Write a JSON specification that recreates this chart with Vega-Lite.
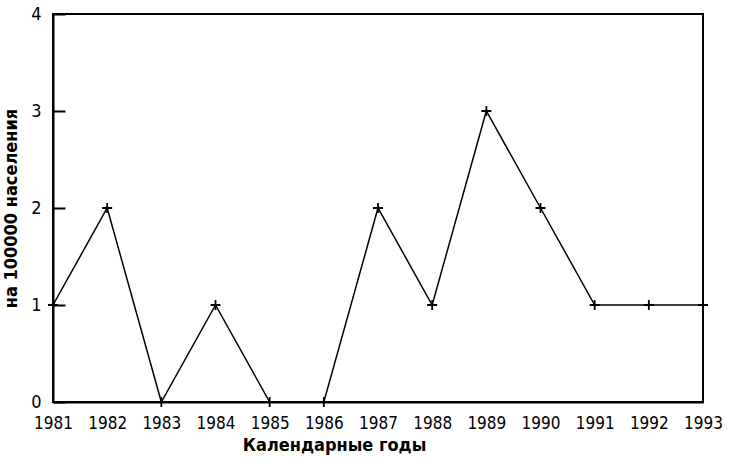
{
  "$schema": "https://vega.github.io/schema/vega-lite/v6.json",
  "width": 650,
  "height": 388,
  "autosize": {"type": "none"},
  "padding": {"left": 53, "top": 14, "right": 28, "bottom": 65},
  "background": "white",
  "config": {
    "view": {"stroke": "black", "strokeWidth": 2},
    "font": "DejaVu Sans Condensed"
  },
  "data": {
    "values": [
      {"year": 1981, "value": 1},
      {"year": 1982, "value": 2},
      {"year": 1983, "value": 0},
      {"year": 1984, "value": 1},
      {"year": 1985, "value": 0},
      {"year": 1986, "value": 0},
      {"year": 1987, "value": 2},
      {"year": 1988, "value": 1},
      {"year": 1989, "value": 3},
      {"year": 1990, "value": 2},
      {"year": 1991, "value": 1},
      {"year": 1992, "value": 1},
      {"year": 1993, "value": 1}
    ]
  },
  "encoding": {
    "x": {
      "field": "year",
      "type": "quantitative",
      "scale": {"domain": [1981, 1993], "nice": false, "zero": false},
      "axis": {
        "values": [1981, 1982, 1983, 1984, 1985, 1986, 1987, 1988, 1989, 1990, 1991, 1992, 1993],
        "format": "d",
        "grid": false,
        "ticks": false,
        "domainColor": "black",
        "domainWidth": 2,
        "labelFont": "DejaVu Sans Condensed",
        "labelFontSize": 17,
        "labelColor": "black",
        "labelPadding": 13,
        "labelFlush": false,
        "title": "Календарные годы",
        "titleFont": "DejaVu Sans Condensed",
        "titleFontSize": 18,
        "titleFontWeight": "bold",
        "titleColor": "black",
        "titleX": 281,
        "titlePadding": 5
      }
    },
    "y": {
      "field": "value",
      "type": "quantitative",
      "scale": {"domain": [0, 4], "nice": false},
      "axis": {
        "values": [0, 1, 2, 3, 4],
        "grid": false,
        "tickSize": -12,
        "tickWidth": 2,
        "tickColor": "black",
        "domainColor": "black",
        "domainWidth": 2,
        "labelFont": "DejaVu Sans Condensed",
        "labelFontSize": 18,
        "labelColor": "black",
        "labelPadding": 24,
        "title": "на 100000 населения",
        "titleFont": "DejaVu Sans Condensed",
        "titleFontSize": 18,
        "titleFontWeight": "bold",
        "titleColor": "black",
        "titlePadding": 10
      }
    }
  },
  "layer": [
    {"mark": {"type": "line", "color": "black", "strokeWidth": 1.5}},
    {"mark": {"type": "point", "shape": "M-1,0H1M0,-1V1", "size": 100, "filled": false, "stroke": "black", "strokeWidth": 1.8, "opacity": 1}}
  ]
}
